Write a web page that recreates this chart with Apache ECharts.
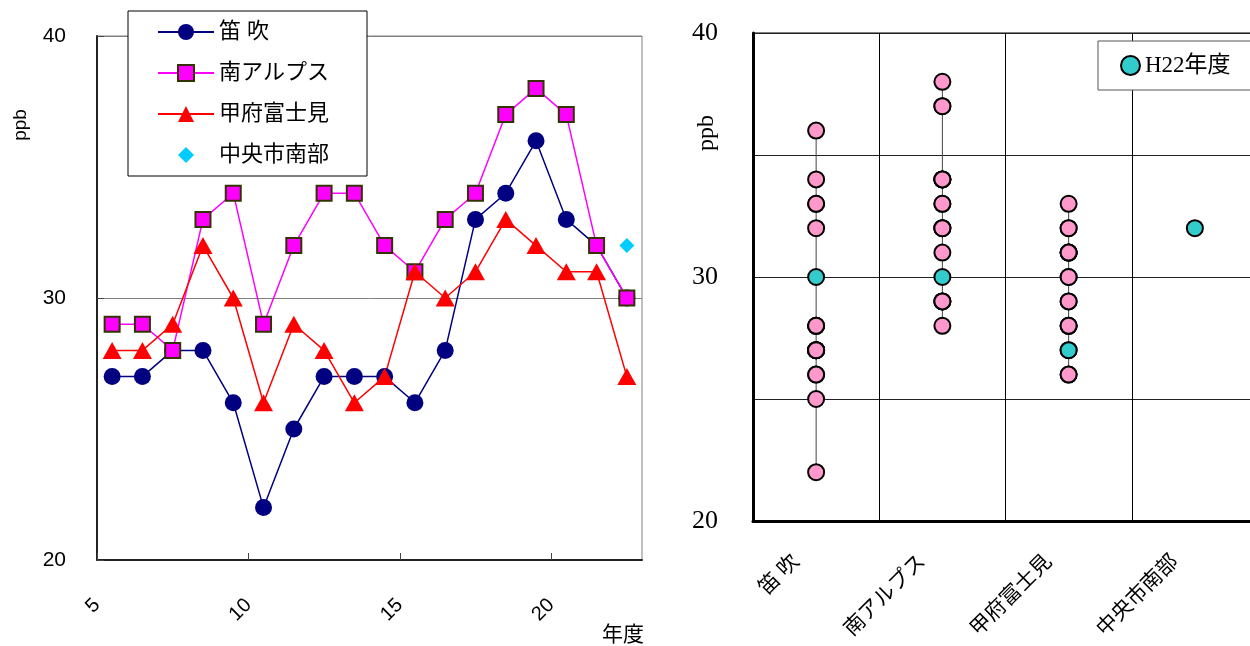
<!DOCTYPE html>
<html>
<head>
<meta charset="utf-8">
<script src="https://cdn.jsdelivr.net/npm/echarts@6/dist/echarts.min.js"></script>
<style>
  html, body { margin: 0; padding: 0; background: #fff; }
  #chart { width: 1250px; height: 646px; }
</style>
</head>
<body>
<div id="chart"></div>
<script>
// 年度 (H5〜H22)
const years = ['5','6','7','8','9','10','11','12','13','14','15','16','17','18','19','20','21','22'];
// 測定局
const stations = ['笛 吹', '南アルプス', '甲府富士見', '中央市南部'];
// 年度別平均値 (ppb)
const fuefuki    = [27, 27, 28, 28, 26, 22, 25, 27, 27, 27, 26, 28, 33, 34, 36, 33, 32, 30];
const minamiAlps = [29, 29, 28, 33, 34, 29, 32, 34, 34, 32, 31, 33, 34, 37, 38, 37, 32, 30];
const kofuFujimi = [28, 28, 29, 32, 30, 26, 29, 28, 26, 27, 31, 30, 31, 33, 32, 31, 31, 27];
const chuoNanbu  = [null, null, null, null, null, null, null, null, null, null, null, null, null, null, null, null, null, 32];
// 年度軸の目盛
const yearAxisMin = 5, yearAxisMax = 23, yearAxisStep = 5;

const seriesValues = [fuefuki, minamiAlps, kofuFujimi, chuoNanbu];
const latestLabel = 'H22年度';

const sansFont = "'Liberation Sans', Arial, sans-serif";
const cjkSans = "'Liberation Sans', 'Noto Sans CJK JP', sans-serif";
const serifFont = "'Liberation Serif', 'Noto Sans CJK JP', serif";

// 右図: 各局の全年度の分布と最新年度
const latestIndex = years.length - 1;
const rangeSeries = [];
const pastPoints = [];
const latestPoints = [];
stations.forEach((st, i) => {
  const vals = seriesValues[i].filter(v => v != null);
  const past = seriesValues[i].slice(0, latestIndex).filter(v => v != null);
  past.forEach(v => pastPoints.push([st, v]));
  const last = seriesValues[i][latestIndex];
  if (last != null) latestPoints.push([st, last]);
  if (vals.length > 1) {
    const sorted = vals.slice().sort((a, b) => a - b);
    rangeSeries.push({
      type: 'line', name: '範囲 ' + st, xAxisIndex: 2, yAxisIndex: 1,
      data: [[st, sorted[0]], [st, sorted[sorted.length - 1]]],
      symbol: 'none', silent: true, z: 1,
      lineStyle: { color: '#444', width: 1 }
    });
  }
});

// 凡例用のひし形 (外側の移動点で余白を持たせる)
const legendDiamond = 'path://M-10,-10M0,-8L8,0L0,8L-8,0ZM10,10';

const chart = echarts.init(document.getElementById('chart'), null, { renderer: 'canvas' });

chart.setOption({
  animation: false,
  backgroundColor: '#fff',
  legend: [
    {
      data: [stations[0], stations[1], stations[2], { name: stations[3], icon: legendDiamond }],
      orient: 'vertical',
      left: 128, top: 11,
      padding: [10, 38, 10, 29],
      itemGap: 19,
      itemWidth: 56, itemHeight: 20,
      symbolKeepAspect: true,
      borderColor: '#000', borderWidth: 1,
      backgroundColor: '#fff',
      textStyle: { fontSize: 22, color: '#000', fontFamily: cjkSans }
    },
    {
      data: [latestLabel],
      orient: 'vertical',
      left: 1098, top: 41,
      padding: [13, 60, 13, 22],
      itemWidth: 19, itemHeight: 19,
      borderColor: '#555', borderWidth: 1,
      backgroundColor: '#fff',
      textStyle: { fontSize: 23, color: '#000', fontFamily: serifFont }
    }
  ],
  grid: [
    { left: 97, right: 608, top: 36, bottom: 86, show: true, borderColor: '#808080', borderWidth: 1, outerBoundsMode: 'none' },
    { left: 753, width: 505, top: 33, bottom: 125, show: true, borderColor: '#000', borderWidth: 1, outerBoundsMode: 'none' }
  ],
  xAxis: [
    {
      gridIndex: 0, type: 'value',
      min: yearAxisMin, max: yearAxisMax, interval: yearAxisStep,
      name: '年度', nameLocation: 'end', nameGap: -40, nameMoveOverlap: false,
      nameTextStyle: { fontSize: 21, color: '#000', fontFamily: cjkSans, verticalAlign: 'top', padding: [65, 0, 0, 0] },
      axisLine: { lineStyle: { color: '#222', width: 2 } },
      axisTick: { inside: true, length: 7, lineStyle: { color: '#444', width: 1 } },
      axisLabel: { rotate: 45, fontSize: 20, color: '#000', fontFamily: sansFont, margin: 42, showMaxLabel: false },
      splitLine: { show: false }
    },
    {
      gridIndex: 0, type: 'category', data: years, boundaryGap: true, show: false
    },
    {
      gridIndex: 1, type: 'category', data: stations, boundaryGap: true,
      axisLine: { lineStyle: { color: '#000', width: 3 } },
      axisTick: { show: false },
      axisLabel: { rotate: 45, fontSize: 21, color: '#000', fontFamily: serifFont, margin: 18, padding: [0, 28, 0, 0], interval: 0 },
      splitLine: { show: true, interval: 0, lineStyle: { color: '#000', width: 1 } }
    }
  ],
  yAxis: [
    {
      gridIndex: 0, type: 'value', min: 20, max: 40, interval: 10,
      name: 'ppb', nameLocation: 'middle', nameRotate: 90, nameGap: 67, nameMoveOverlap: false,
      nameTextStyle: { fontSize: 19, color: '#000', fontFamily: sansFont, padding: [0, 0, 0, 346] },
      axisLine: { show: true, lineStyle: { color: '#222', width: 2 } },
      axisTick: { show: true, inside: true, length: 7, lineStyle: { color: '#444' } },
      axisLabel: { fontSize: 21, color: '#000', fontFamily: sansFont, margin: 31 },
      splitLine: { lineStyle: { color: '#808080', width: 1 } }
    },
    {
      gridIndex: 1, type: 'value', min: 20, max: 40, interval: 5,
      name: 'ppb', nameLocation: 'middle', nameRotate: 90, nameGap: 34, nameMoveOverlap: false,
      nameTextStyle: { fontSize: 24, color: '#000', fontFamily: serifFont, padding: [0, 0, 0, 288] },
      axisLine: { show: true, lineStyle: { color: '#000', width: 3 } },
      axisTick: { show: false },
      axisLabel: {
        fontSize: 26, color: '#000', fontFamily: serifFont, margin: 35, padding: [11, 0, 0, 0],
        formatter: v => (v % 10 === 0 ? String(v) : '')
      },
      splitLine: { lineStyle: { color: '#222', width: 1 } }
    }
  ],
  series: [
    {
      type: 'line', name: stations[0], xAxisIndex: 1, yAxisIndex: 0, data: fuefuki,
      symbol: 'circle', symbolSize: 17,
      lineStyle: { color: '#000080', width: 1.5 },
      itemStyle: { color: '#000080' }
    },
    {
      type: 'line', name: stations[1], xAxisIndex: 1, yAxisIndex: 0, data: minamiAlps,
      symbol: 'rect', symbolSize: 15,
      lineStyle: { color: '#ff00ff', width: 1.5 },
      itemStyle: { color: '#ff00ff', borderColor: '#333300', borderWidth: 2 }
    },
    {
      type: 'line', name: stations[2], xAxisIndex: 1, yAxisIndex: 0, data: kofuFujimi,
      symbol: 'triangle', symbolSize: [19, 17],
      lineStyle: { color: '#ff0000', width: 1.5 },
      itemStyle: { color: '#ff0000' }
    },
    {
      type: 'scatter', name: stations[3], xAxisIndex: 1, yAxisIndex: 0, data: chuoNanbu,
      symbol: 'diamond', symbolSize: 15,
      itemStyle: { color: '#00ccff', opacity: 1 }
    },
    ...rangeSeries,
    {
      type: 'scatter', name: '各年度', xAxisIndex: 2, yAxisIndex: 1, data: pastPoints,
      symbol: 'circle', symbolSize: 16, z: 3,
      itemStyle: { color: '#ff99cc', borderColor: '#000', borderWidth: 2, opacity: 1 }
    },
    {
      type: 'scatter', name: latestLabel, xAxisIndex: 2, yAxisIndex: 1, data: latestPoints,
      symbol: 'circle', symbolSize: 16, z: 4,
      itemStyle: { color: '#33cccc', borderColor: '#000', borderWidth: 2, opacity: 1 }
    }
  ]
});
</script>
</body>
</html>
